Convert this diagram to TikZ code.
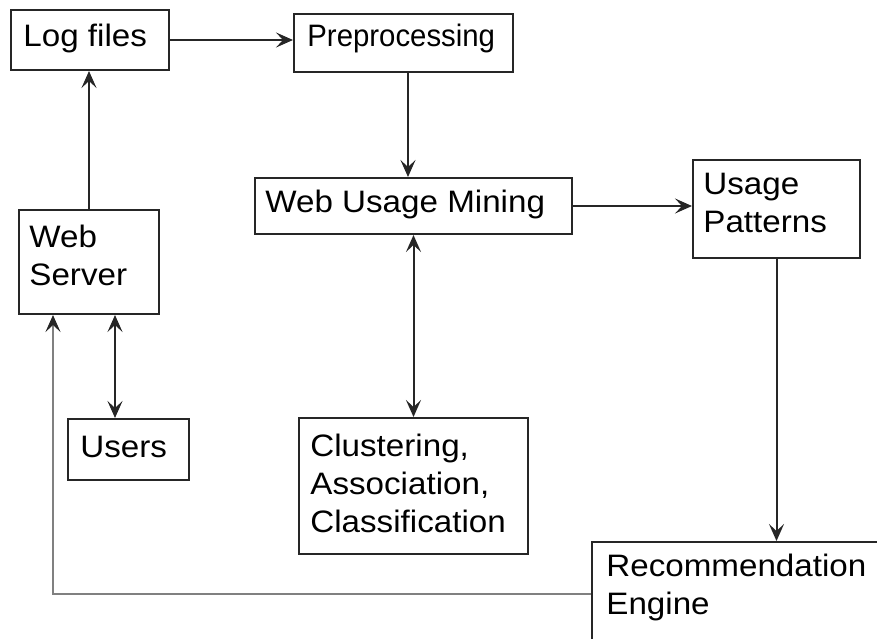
\documentclass[tikz,border=0pt]{standalone}
\usepackage{fontspec}
\setmainfont[FakeStretch=1.07]{Liberation Sans}
\usetikzlibrary{arrows.meta}
\begin{document}
\begin{tikzpicture}[x=0.5pt,y=-0.5pt,
  tip/.tip={Stealth[length=8.5pt,width=7.5pt,inset=3.5pt]},
  box/.style={draw=black!85, line width=1pt, inner sep=0pt, anchor=north west},
  lbl/.style={inner sep=0pt, anchor=base west, align=left,
    font=\fontsize{15.5}{19}\selectfont},
  flow/.style={draw=black!85, line width=1pt, -tip},
  both/.style={draw=black!85, line width=1pt, tip-tip},
  back/.style={draw=black!50, line width=1pt, -{Stealth[length=8.5pt,width=7.5pt,inset=3.5pt,black!85]}}]
\useasboundingbox (0,0) rectangle (877,638);

% boxes
\node[box, minimum width=79pt,   minimum height=30pt] (lf)  at (10,9)    {};
\node[box, minimum width=109.5pt,minimum height=29pt] (pp)  at (293,13)  {};
\node[box, minimum width=158.5pt,minimum height=28pt] (wum) at (254,177) {};
\node[box, minimum width=70pt,   minimum height=52pt] (ws)  at (18,209)  {};
\node[box, minimum width=83.5pt, minimum height=49pt] (up)  at (692,159) {};
\node[box, minimum width=60.5pt, minimum height=30.5pt] (us) at (67,418) {};
\node[box, minimum width=114.5pt,minimum height=68pt] (cl)  at (298,417) {};
\node[box, minimum width=150pt,  minimum height=60pt] (re)  at (591,541) {};

% labels (anchored at the baseline of the last line)
\node[lbl] (lf-t)  at (23,46)   {Log files};
\node[lbl] (pp-t)  at (307,46)  {\scalebox{0.885}[1]{Preprocessing}};
\node[lbl] (wum-t) at (265,212) {Web Usage Mining};
\node[lbl] (ws-t)  at (29,285)  {Web\\Server};
\node[lbl] (up-t)  at (703,232) {Usage\\Patterns};
\node[lbl] (us-t)  at (80,457)  {Users};
\node[lbl] (cl-t)  at (310,532) {Clustering,\\Association,\\Classification};
\node[lbl] (re-t)  at (606,614) {Recommendation\\Engine};

% connectors
\draw[flow] (lf.east) -- (lf.east -| pp.west);
\draw[flow] (ws.north) -- (ws.north |- lf.south);
\draw[flow] ([xshift=2.25pt]pp.south) -- ([xshift=2.25pt]pp.south |- wum.north);
\draw[both] (wum.south) -- (wum.south |- cl.north);
\draw[flow] (wum.east) -- (wum.east -| up.west);
\draw[flow] (up.south) -- (up.south |- re.north);
\draw[both] ([xshift=13pt]ws.south) -- ([xshift=13pt]ws.south |- us.north);
\coordinate (re-out) at ([yshift=-26.5pt]re.north west);
\draw[back] (re-out) -| ([xshift=-18pt]ws.south);
\end{tikzpicture}
\end{document}
